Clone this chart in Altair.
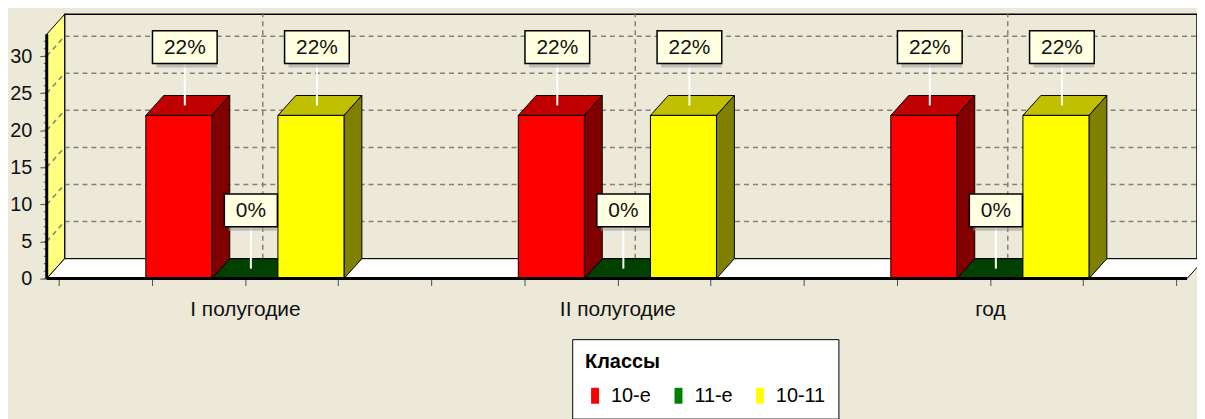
import altair as alt
import pandas as pd

# ---------------- data ----------------
categories = ["I полугодие", "II полугодие", "год"]
series = ["10-е", "11-е", "10-11"]
values_10e = [22, 22, 22]
values_11e = [0, 0, 0]
values_1011 = [22, 22, 22]
y_ticks = [0, 5, 10, 15, 20, 25, 30]
grid_values = [5, 10, 15, 20, 25, 30]

front_colors = ["#ff0000", "#008000", "#ffff00"]
top_colors = ["#c00000", "#004000", "#c0c000"]
side_colors = ["#800000", "#003000", "#808000"]

series_values = [values_10e, values_11e, values_1011]

# ---------------- geometry (scale units) ----------------
W, H = 1158, 266
PX_X = 93.75            # pixels per x unit
PX_Y = 224 / 30         # pixels per y unit
XMIN = -12 / PX_X
XMAX = XMIN + W / PX_X
YMAX = H / PX_Y
DX = 18 / PX_X          # 3D depth (x)
DY = 20 / PX_Y          # 3D depth (y)
BW = 66.5 / PX_X        # bar width
XL = XMIN
XR = XL + 1148 / PX_X
WALL_H = 246 / PX_Y
cat_pos = [2 + 4 * i for i in range(len(categories))]
n_ticks = 4 * len(categories) + 1

xs = alt.Scale(domain=[XMIN, XMAX], nice=False, zero=False)
ys = alt.Scale(domain=[0, YMAX], nice=False, zero=False)
FONT = "Liberation Sans"

label_expr = " : ".join([f"datum.value == {p} ? '{c}'" for p, c in zip(cat_pos, categories)]) + " : ''"
XAX = alt.Axis(values=list(range(n_ticks)), labelExpr=label_expr, title=None, domain=False,
               grid=False, tickSize=7, tickColor="#505050", tickWidth=1,
               labelFont=FONT, labelFontSize=21, labelColor="#111111",
               labelPadding=13, labelFlush=False, labelOverlap=False)
YAX = alt.Axis(values=y_ticks, title=None, domain=False, grid=False,
               tickSize=7, tickColor="#505050", tickWidth=1,
               labelFont=FONT, labelFontSize=20, labelColor="#111111", labelPadding=8)


def X(field):
    return alt.X(field, scale=xs, axis=XAX)


def Y(field, **kw):
    return alt.Y(field, scale=ys, axis=YAX, **kw)


# ---------------- build tables ----------------
fronts, faces, labels = [], [], []
for i, (cat, cx) in enumerate(zip(categories, cat_pos)):
    for j, s in enumerate(series):
        v = series_values[j][i]
        x0 = cx + (j - 1.5) * BW
        x1 = x0 + BW
        fronts.append(dict(cat=cat, series=s, x0=x0, x1=x1, y0=0, v=v))
        fid = f"{i}-{j}"
        for (x, y, y2) in [(x0, v, v), (x0 + DX, v, v + DY), (x1, v, v + DY), (x1 + DX, v + DY, v + DY)]:
            faces.append(dict(face="t" + fid, kind="top", x=x, y=y, y2=y2, fill=top_colors[j]))
        for (x, y, y2) in [(x1, 0, v), (x1 + DX, DY, v + DY)]:
            faces.append(dict(face="s" + fid, kind="side", x=x, y=y, y2=y2, fill=side_colors[j]))
        txt = f"{v}%"
        ndig = len(str(v))
        wpx = 23 + 11.7 * ndig + 18.7
        lx = (x0 + x1) / 2 + 6 / PX_X
        ly = v + 9.2
        labels.append(dict(text=txt, x=lx, xa=lx - wpx / 2 / PX_X, xb=lx + wpx / 2 / PX_X,
                           y=ly, ya=ly - 16.5 / PX_Y, yb=ly + 16.5 / PX_Y,
                           lead0=v + DY / 2))

fronts = pd.DataFrame(fronts)
faces = pd.DataFrame(faces)
labels = pd.DataFrame(labels)

wall = pd.DataFrame([dict(x=XL, y=0, y2=WALL_H), dict(x=XL + DX, y=DY, y2=WALL_H + DY)])
floor = pd.DataFrame([dict(x=XL, y=0, y2=0), dict(x=XL + DX, y=0, y2=DY),
                      dict(x=XR, y=0, y2=DY), dict(x=XR + DX, y=DY, y2=DY)])
back = pd.DataFrame([dict(x0=XL + DX, x1=XMAX, y0=DY, y1=WALL_H + DY)])
hgrid = pd.DataFrame([dict(x0=XL + DX, x1=XMAX, y=g + DY) for g in grid_values])
dgrid = pd.DataFrame([dict(x0=XL, x1=XL + DX, y0=g, y1=g + DY) for g in grid_values])
vgrid = pd.DataFrame([dict(x=p + DX, y0=DY, y1=WALL_H + DY) for p in cat_pos])
minor = pd.DataFrame(dict(y=list(range(0, int(WALL_H) + 1))))
front_edge = pd.DataFrame([dict(x=XL, y0=0, y1=WALL_H)])
base_edge = pd.DataFrame([dict(x0=XL, x1=XR, y=0)])

# ---------------- layers ----------------
back_wall = alt.Chart(back).mark_rect(fill="#ece9d8", stroke="black", strokeWidth=1.5).encode(
    x=X("x0:Q"), x2="x1:Q", y=Y("y0:Q"), y2="y1:Q")

grid_style = dict(stroke="#808080", strokeWidth=1.5, strokeDash=[5, 4])
h_lines = alt.Chart(hgrid).mark_rule(**grid_style).encode(x=X("x0:Q"), x2="x1:Q", y=Y("y:Q"))
v_lines = alt.Chart(vgrid).mark_rule(**grid_style).encode(x=X("x:Q"), y=Y("y0:Q"), y2="y1:Q")

left_wall = alt.Chart(wall).mark_area(fill="#ffff80", stroke="black", strokeWidth=1,
                                      orient="vertical").encode(
    x=X("x:Q"), y=Y("y:Q", stack=None), y2="y2:Q")
d_lines = alt.Chart(dgrid).mark_rule(**grid_style).encode(
    x=X("x0:Q"), x2="x1:Q", y=Y("y0:Q"), y2="y1:Q")

floor_l = alt.Chart(floor).mark_area(fill="white", stroke="black", strokeWidth=1,
                                     orient="vertical").encode(
    x=X("x:Q"), y=Y("y:Q", stack=None), y2="y2:Q")

minor_ticks = alt.Chart(minor).mark_rule(stroke="#606060", strokeWidth=1).encode(
    x=alt.value(-3), x2=alt.value(0), y=Y("y:Q"))

face_base = alt.Chart(faces).mark_area(stroke="black", strokeWidth=1, orient="vertical").encode(
    x=X("x:Q"), y=Y("y:Q", stack=None), y2="y2:Q",
    detail="face:N",
    fill=alt.Fill("fill:N", scale=None))
tops = face_base.transform_filter(alt.datum.kind == "top")
sides = face_base.transform_filter(alt.datum.kind == "side")

front_l = alt.Chart(fronts).mark_rect(stroke="black", strokeWidth=1).encode(
    x=X("x0:Q"), x2="x1:Q", y=Y("y0:Q"), y2="v:Q",
    color=alt.Color("series:N", scale=alt.Scale(domain=series, range=front_colors),
                    legend=alt.Legend(title="Классы", orient="none", legendX=529, legendY=327,
                                      direction="horizontal", fillColor="white",
                                      strokeColor="black", padding=13,
                                      titleFont=FONT, titleFontSize=20, titleFontWeight="bold",
                                      titleColor="black", titlePadding=14,
                                      labelFont=FONT, labelFontSize=20, labelColor="black",
                                      symbolType="M-0.5,-1H0.5V1H-0.5Z", symbolSize=256,
                                      symbolStrokeWidth=0, symbolOpacity=1,
                                      columnPadding=17, labelOffset=6)),
    tooltip=["cat:N", "series:N", "v:Q"],
)

edge_v = alt.Chart(front_edge).mark_rule(stroke="black", strokeWidth=3).encode(
    x=X("x:Q"), y=Y("y0:Q"), y2="y1:Q")
edge_h = alt.Chart(base_edge).mark_rule(stroke="black", strokeWidth=3).encode(
    x=X("x0:Q"), x2="x1:Q", y=Y("y:Q"))

leaders = alt.Chart(labels).mark_rule(stroke="white", strokeWidth=2).encode(
    x=X("x:Q"), y=Y("lead0:Q"), y2="ya:Q")
box_shadow = alt.Chart(labels).mark_rect(fill="#9a9a9a", opacity=0.55, xOffset=4, yOffset=4).encode(
    x=X("xa:Q"), x2="xb:Q", y=Y("ya:Q"), y2="yb:Q")
boxes = alt.Chart(labels).mark_rect(fill="#ffffe1", stroke="black", strokeWidth=1.5).encode(
    x=X("xa:Q"), x2="xb:Q", y=Y("ya:Q"), y2="yb:Q")
texts = alt.Chart(labels).mark_text(font=FONT, fontSize=21, color="#111111",
                                    align="center", baseline="middle", dy=1).encode(
    x=X("x:Q"), y=Y("y:Q"), text="text:N")

legend_shadow = alt.Chart(pd.DataFrame([dict(k=1)])).mark_rect(fill="#5a5a5a", opacity=0.8).encode(
    x=alt.value(533), x2=alt.value(797), y=alt.value(331), y2=alt.value(420))

chart = alt.layer(
    back_wall, h_lines, v_lines, left_wall, d_lines, floor_l, minor_ticks,
    tops, sides, front_l, edge_v, edge_h, leaders, box_shadow, boxes, texts, legend_shadow,
).properties(
    width=W, height=H,
    autosize=alt.AutoSizeParams(type="none"),
    padding={"left": 39, "top": 5, "right": 0, "bottom": 140},
    background="#ece9d8",
).configure_view(stroke=None)

chart.save("out.html", embed_options={"renderer": "svg", "actions": False})
